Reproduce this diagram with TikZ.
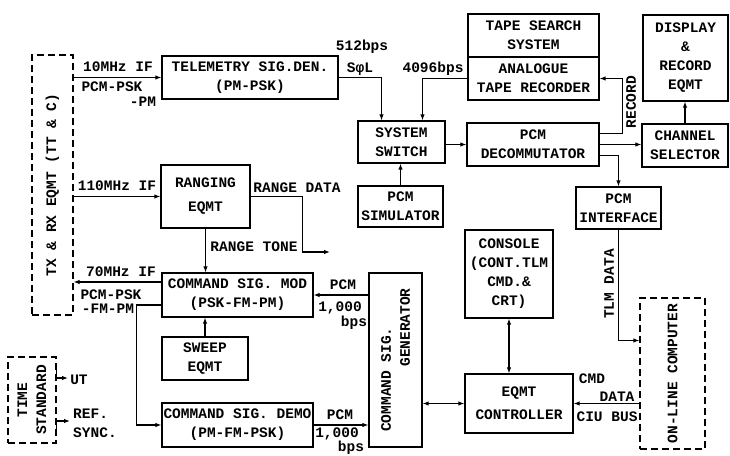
\documentclass[tikz,border=0pt]{standalone}
\usepackage{fontspec}
\setmonofont{Liberation Mono}
\usetikzlibrary{calc, positioning, arrows.meta}

\begin{document}
\begin{tikzpicture}[
    x=1pt, y=-1pt,
    font=\ttfamily\bfseries\fontsize{14.5}{19}\selectfont,
    blk/.style={rectangle, draw, line width=1.3pt, inner sep=1pt, align=center},
    dblk/.style={blk, dash pattern=on 7pt off 4pt},
    arr/.style={-{Latex[length=6pt,width=4.5pt]}, line width=1.1pt},
    darr/.style={{Latex[length=6pt,width=4.5pt]}-{Latex[length=6pt,width=4.5pt]}, line width=1.1pt},
    lbl/.style={inner sep=0pt},
    vlbl/.style={inner sep=0pt, rotate=90, align=center}
]
\useasboundingbox (0,0) rectangle (730,455);

% ground station equipment
\node[dblk, minimum width=41pt, minimum height=260pt] (txrx) at (52.5,185) {};
\node[vlbl] (txrxlbl) at (txrx) {TX \& RX EQMT (TT \& C)};
\node[blk, minimum width=176pt, minimum height=43pt] (telem) at (250,77.5) {TELEMETRY SIG.DEN.\\(PM-PSK)};
\node[blk, minimum width=89pt, minimum height=63pt] (rang) at (205.5,196.5) {RANGING\\[5pt]EQMT};
\node[blk, minimum width=87pt, minimum height=42pt] (sw) at (401.5,142) {SYSTEM\\SWITCH};
\node[blk, minimum width=85pt, minimum height=41pt] (sim) at (400.5,206.5) {PCM\\SIMULATOR};
\node[blk, minimum width=131pt, minimum height=43pt] (search) at (533.5,35.5) {TAPE SEARCH\\SYSTEM};
\node[blk, minimum width=131pt, minimum height=43pt] (rec) at (533.5,78.5) {ANALOGUE\\TAPE RECORDER};
\node[blk, minimum width=132pt, minimum height=43pt] (decom) at (533,144.5) {PCM\\DECOMMUTATOR};
\node[blk, minimum width=85pt, minimum height=86pt] (disp) at (685.5,58) {DISPLAY\\\&\\RECORD\\EQMT};
\node[blk, minimum width=86pt, minimum height=43pt] (chan) at (685,145.5) {CHANNEL\\SELECTOR};
\node[blk, minimum width=85pt, minimum height=42pt] (pcmif) at (618.5,208) {PCM\\INTERFACE};
\node[dblk, minimum width=65pt, minimum height=151pt] (online) at (672.5,373.5) {};
\node[vlbl] (onlinelbl) at (online) {ON-LINE COMPUTER};
\node[blk, minimum width=108pt, minimum height=59pt] (ctrl) at (519,403.5) {EQMT\\[4pt]CONTROLLER};
\node[blk, minimum width=88pt, minimum height=88pt] (console) at (509,274) {CONSOLE\\(CONT.TLM\\CMD.\&\\CRT)};
\node[blk, minimum width=53pt, minimum height=174pt] (gen) at (395.5,360) {};
\node[vlbl, align=right] (genlbl) at (gen) {COMMAND SIG.\hspace*{39pt}\\GENERATOR};
\node[blk, minimum width=151pt, minimum height=44pt] (mod) at (237.5,295) {COMMAND SIG. MOD\\(PSK-FM-PM)};
\node[blk, minimum width=86pt, minimum height=43pt] (sweep) at (205,358.5) {SWEEP\\EQMT};
\node[blk, minimum width=151pt, minimum height=44pt] (demo) at (237.5,425) {COMMAND SIG. DEMO\\(PM-FM-PSK)};
\node[dblk, minimum width=48pt, minimum height=86pt] (tstd) at (32,400) {};
\node[vlbl] (tstdlbl) at (tstd) {TIME\\STANDARD};

% signal paths
\draw[arr] (telem.west -| txrx.east) -- (telem.west);
\draw[arr] (rang.west -| txrx.east) -- (rang.west);
\draw[arr] ([yshift=13pt]mod.west) -- ([yshift=13pt]mod.west -| txrx.east);
\draw[arr] (telem.east) -| ([xshift=-20pt]sw.north);
\draw[arr] (rec.west) -| ([xshift=21pt]sw.north);
\draw[arr] (sim.north) -- (sim.north |- sw.south);
\draw[arr] (decom.west -| sw.east) -- (decom.west);
\draw[arr] ([yshift=11pt]decom.east) -- ++(23,0) |- (rec.east);
\draw[arr] (decom.east) -- (decom.east -| chan.west);
\draw[arr] ([yshift=-11pt]decom.east) -| (pcmif.north);
\draw[arr] (chan.north) -- (chan.north |- disp.south);
\draw[arr] (pcmif.south) |- ([yshift=33pt]online.west);
\draw[arr] (online.west |- ctrl.east) -- (ctrl.east);
\draw[darr] (console.south) -- (console.south |- ctrl.north);
\draw[darr] (ctrl.west) -- (ctrl.west -| gen.east);
\draw[arr] (gen.west |- mod.east) -- (mod.east);
\draw[arr] (demo.east) -- (demo.east -| gen.west);
\draw[arr] (rang.south) -- (rang.south |- mod.north);
\draw[arr] (sweep.north) -- (sweep.north |- mod.south);
\draw[arr] ([yshift=-10pt]mod.west) -- ++(-25,0) |- (demo.west);
\coordinate (rtone) at (330,252);
\draw[arr] (rang.east) -- ++(52,0) |- (rtone);
\coordinate (ut) at (68,378);
\draw[arr] ([yshift=32pt]tstd.east) |- (ut);
\coordinate (refsync) at (70,421);
\draw[arr] ([yshift=-33pt]tstd.east) |- (refsync);

% labels
\node[lbl] (l10) at (118,67) {10MHz IF};
\node[lbl] (lpsk1) at (112,87) {PCM-PSK};
\node[lbl] (lpm1) at (143,102) {-PM};
\node[lbl] (l110) at (117,186) {110MHz IF};
\node[lbl] (l512) at (362,47) {512bps};
\node[lbl] (lsol) at (360,69) {SφL};
\node[lbl] (l4096) at (433,69) {4096bps};
\node[vlbl] (lrec) at (631,102) {RECORD};
\node[lbl] (lrdata) at (297,188) {RANGE DATA};
\node[lbl] (lrtone) at (254,247) {RANGE TONE};
\node[vlbl] (ltlm) at (609,284) {TLM DATA};
\node[lbl] (lcmd) at (592,379) {CMD};
\node[lbl] (ldata) at (617,397) {DATA};
\node[lbl] (lciu) at (607,417) {CIU BUS};
\node[lbl] (lpcm1) at (343,285) {PCM};
\node[lbl] (lbps1a) at (340,308) {1,000};
\node[lbl] (lbps1b) at (354,323) {bps};
\node[lbl] (lpcm2) at (340,415) {PCM};
\node[lbl] (lbps2a) at (337,434) {1,000};
\node[lbl] (lbps2b) at (351,448) {bps};
\node[lbl] (l70) at (121,272) {70MHz IF};
\node[lbl] (lpsk2) at (111,295) {PCM-PSK};
\node[lbl] (lfm) at (108,309) {-FM-PM};
\node[lbl] (lut) at (79,380) {UT};
\node[lbl, align=left] (lref) at (95,423) {REF.\\SYNC.};
\end{tikzpicture}
\end{document}
